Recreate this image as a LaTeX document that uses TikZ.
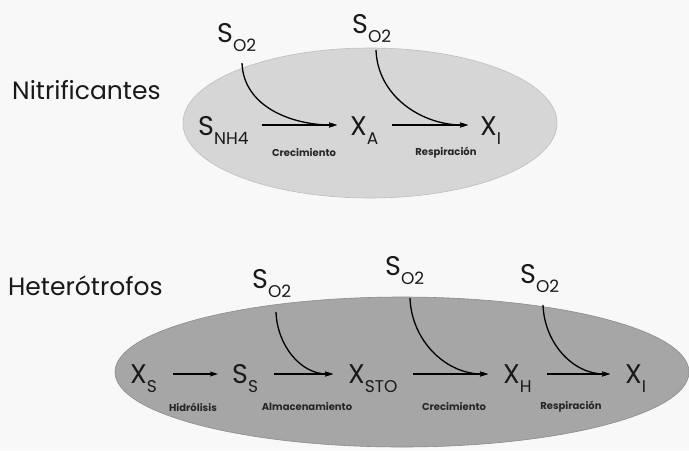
\documentclass[tikz,border=0pt]{standalone}
\usepackage{fontspec}
\setmainfont{Poppins}
\usetikzlibrary{arrows.meta,calc}
\definecolor{bgc}{HTML}{F8F8F8}
\definecolor{lightfill}{HTML}{D6D6D6}
\definecolor{lightedge}{HTML}{BDBDBD}
\definecolor{darkfill}{HTML}{A6A6A6}
\definecolor{darkedge}{HTML}{8C8C8C}
\newcommand{\spc}[2]{#1\raisebox{-0.36em}{\fontsize{17}{17}\selectfont #2}}
\tikzset{
  big/.style={anchor=base west, inner sep=0pt, font=\fontsize{27}{27}\selectfont, text=black!90},
  title/.style={anchor=base west, inner sep=0pt, font=\fontsize{25}{25}\selectfont, text=black!90},
  lab/.style={inner sep=0pt, font=\fontsize{10}{10}\selectfont\bfseries, text=black!85},
  arr/.style={line width=1.3pt, -{Stealth[length=8pt,width=5pt,inset=1.5pt]}},
}
\begin{document}
\begin{tikzpicture}[x=1pt,y=-1pt]
\fill[bgc] (0,0) rectangle (689,451);
\useasboundingbox (0,0) rectangle (689,451);
% ellipses
\filldraw[fill=lightfill, draw=lightedge, line width=0.6pt] (370,123) ellipse [x radius=187, y radius=75];
\filldraw[fill=darkfill, draw=darkedge, line width=0.6pt] (402,372) ellipse [x radius=287, y radius=75];
% titles
\node[title] (nit) at (12,99) {Nitrificantes};
\node[title] (het) at (8,295) {Heterótrofos};
% top row
\node[big] (oa) at (217,42) {\spc{S}{O2}};
\node[big] (ob) at (352,33) {\spc{S}{O2}};
\node[big] (snh) at (198,135) {\spc{S}{NH4}};
\node[big] (xa) at (350,135) {\spc{X}{A}};
\node[big] (xia) at (480,135) {\spc{X}{I}};
\coordinate (ta) at ($(xa.base west)+(-13,-10)$);
\coordinate (tb) at ($(xia.base west)+(-12,-10)$);
\draw[arr] ($(snh.base east)+(13,-10)$) -- (ta);
\draw[arr] ($(xa.base east)+(13,-10)$) -- (tb);
\draw[arr] ($(oa.base west)+(25,21)$) to[out=-88,in=180] (ta);
\draw[arr] ($(ob.base west)+(24,17)$) to[out=-88,in=180] (tb);
\node[lab] (l1) at (304,153) {Crecimiento};
\node[lab] (l2) at (446,153) {Respiración};
% bottom row
\node[big] (oc) at (252,288) {\spc{S}{O2}};
\node[big] (od) at (385,275) {\spc{S}{O2}};
\node[big] (oe) at (520,283) {\spc{S}{O2}};
\node[big] (xs) at (130,383) {\spc{X}{S}};
\node[big] (ss) at (232,383) {\spc{S}{S}};
\node[big] (xsto) at (348,383) {\spc{X}{STO}};
\node[big] (xh) at (503,383) {\spc{X}{H}};
\node[big] (xib) at (625,383) {\spc{X}{I}};
\coordinate (tc) at ($(ss.base west)+(-14,-9)$);
\coordinate (td) at ($(xsto.base west)+(-15,-9)$);
\coordinate (te) at ($(xh.base west)+(-15,-9)$);
\coordinate (tf) at ($(xib.base west)+(-15,-9)$);
\draw[arr] ($(xs.base east)+(16,-9)$) -- (tc);
\draw[arr] ($(ss.base east)+(16,-9)$) -- (td);
\draw[arr] ($(xsto.base east)+(15,-9)$) -- (te);
\draw[arr] ($(xh.base east)+(15,-9)$) -- (tf);
\draw[arr] ($(oc.base west)+(24,24)$) to[out=-88,in=180] (td);
\draw[arr] ($(od.base west)+(25,23)$) to[out=-88,in=180] (te);
\draw[arr] ($(oe.base west)+(23,22)$) to[out=-88,in=180] (tf);
\node[lab] (l3) at (193,407) {Hidrólisis};
\node[lab] (l4) at (307,407) {Almacenamiento};
\node[lab] (l5) at (454,407) {Crecimiento};
\node[lab] (l6) at (571,407) {Respiración};
\end{tikzpicture}
\end{document}
